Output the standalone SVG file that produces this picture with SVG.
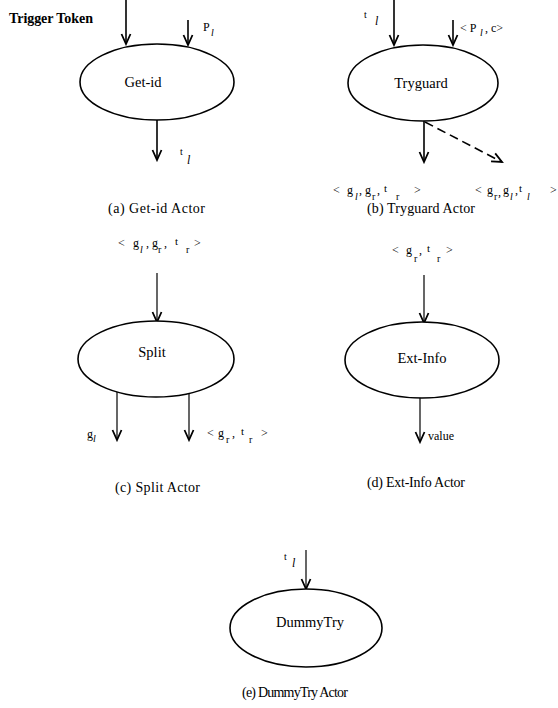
<svg xmlns="http://www.w3.org/2000/svg" width="558" height="708" viewBox="0 0 558 708">
<style>
  .node { fill: #ffffff; stroke: #000; stroke-width: 1.6; }
  .nl { font-family: "Liberation Serif", "Times New Roman", serif; font-size: 14.5px; fill: #000; text-anchor: middle; }
  .cap { font-family: "Liberation Serif", "Times New Roman", serif; font-size: 14px; fill: #000; }
  .lb { font-family: "Liberation Serif", "Times New Roman", serif; font-size: 12px; fill: #000; }
  .sb { font-size: 10px; }
  .tt { font-size: 11px; }
  .it { font-style: italic; }
  .edge { stroke: #000; stroke-width: 1.6; fill: none; marker-end: url(#ah); }
  .thin { stroke-width: 1.2; }
  .dash { stroke-dasharray: 9 5; }
</style>
<defs>
  <marker id="ah" viewBox="-11 -6 13 12" markerWidth="13" markerHeight="12" refX="0" refY="0" orient="auto" markerUnits="userSpaceOnUse">
    <path d="M-10,-4.5 L0,0 L-10,4.5" fill="none" stroke="#000" stroke-width="1.8"/>
  </marker>
</defs>
<rect width="558" height="708" fill="#ffffff"/>

<g id="connectors">
  <line class="edge" x1="126" y1="0" x2="126" y2="44"/>
  <line class="edge" x1="188" y1="20" x2="188" y2="45"/>
  <line class="edge" x1="157" y1="120" x2="157" y2="160"/>
  <line class="edge" x1="394" y1="0" x2="394" y2="45"/>
  <line class="edge" x1="453" y1="20" x2="453" y2="45"/>
  <line class="edge" x1="424" y1="121" x2="424" y2="162"/>
  <line class="edge dash" x1="425" y1="122" x2="502" y2="162"/>
  <line class="edge thin" x1="157" y1="273" x2="157" y2="322"/>
  <line class="edge thin" x1="117" y1="392" x2="117" y2="440"/>
  <line class="edge thin" x1="189" y1="393" x2="189" y2="440"/>
  <line class="edge thin" x1="424" y1="275" x2="424" y2="323"/>
  <line class="edge thin" x1="420" y1="398" x2="420" y2="442"/>
  <line class="edge thin" x1="306" y1="550" x2="306" y2="589"/>
</g>

<g id="get-id">
  <ellipse class="node" cx="157" cy="82" rx="77" ry="38"/>
  <text class="nl" x="143" y="87">Get-id</text>
</g>
<g id="tryguard">
  <ellipse class="node" cx="423" cy="83" rx="75" ry="38"/>
  <text class="nl" x="421" y="88">Tryguard</text>
</g>
<g id="split">
  <ellipse class="node" cx="156" cy="359" rx="78" ry="38"/>
  <text class="nl" x="152" y="357">Split</text>
</g>
<g id="ext-info">
  <ellipse class="node" cx="422" cy="360" rx="77" ry="38"/>
  <text class="nl" x="422" y="363">Ext-Info</text>
</g>
<g id="dummytry">
  <ellipse class="node" cx="306" cy="628" rx="76" ry="39"/>
  <text class="nl" x="310" y="627">DummyTry</text>
</g>

<g id="labels">
  <text class="cap" x="9" y="23" font-weight="bold" textLength="84">Trigger Token</text>
  <text class="lb" font-size="13px"><tspan x="203" y="31">P</tspan><tspan class="sb it" x="211" y="36">l</tspan></text>
  <text class="lb"><tspan class="sb" x="180" y="155">t</tspan><tspan class="it" x="187" y="164">l</tspan></text>

  <text class="lb"><tspan class="sb" x="364" y="18">t</tspan><tspan class="it" x="375" y="25">l</tspan></text>
  <text class="lb"><tspan x="460" y="32">&lt; P</tspan><tspan class="sb it" x="480" y="36">l</tspan><tspan x="485" y="32">, c&gt;</tspan></text>
  <text class="lb"><tspan x="333" y="194">&lt;</tspan><tspan x="347" y="194">g</tspan><tspan class="sb it" x="355" y="200">l</tspan><tspan x="359" y="194">,</tspan><tspan x="365" y="194">g</tspan><tspan class="sb" x="372" y="200">r</tspan><tspan x="377" y="194">,</tspan><tspan class="tt" x="384" y="192">t</tspan><tspan class="sb" x="396" y="200">r</tspan><tspan x="414" y="194">&gt;</tspan></text>
  <text class="lb"><tspan x="475" y="194">&lt;</tspan><tspan x="487" y="194">g</tspan><tspan class="sb" x="494" y="200">r</tspan><tspan x="498" y="196">,</tspan><tspan x="503" y="194">g</tspan><tspan class="sb it" x="510" y="200">l</tspan><tspan x="515" y="194">,</tspan><tspan class="tt" x="519" y="192">t</tspan><tspan class="sb it" x="527" y="200">l</tspan><tspan x="550" y="194">&gt;</tspan></text>

  <text class="lb"><tspan x="118" y="247">&lt;</tspan><tspan x="133" y="247">g</tspan><tspan class="sb it" x="140" y="253">l</tspan><tspan x="146" y="247">,</tspan><tspan x="152" y="247">g</tspan><tspan class="sb" x="158" y="253">r</tspan><tspan x="164" y="247">,</tspan><tspan class="tt" x="175" y="245">t</tspan><tspan class="sb" x="186" y="253">r</tspan><tspan x="194" y="247">&gt;</tspan></text>
  <text class="lb"><tspan x="87" y="438">g</tspan><tspan class="sb it" x="93" y="442">l</tspan></text>
  <text class="lb"><tspan x="207" y="437">&lt;</tspan><tspan x="218" y="437">g</tspan><tspan class="sb" x="226" y="443">r</tspan><tspan x="232" y="437">,</tspan><tspan class="tt" x="241" y="435">t</tspan><tspan class="sb" x="249" y="443">r</tspan><tspan x="261" y="437">&gt;</tspan></text>

  <text class="lb"><tspan x="392" y="254">&lt;</tspan><tspan x="406" y="254">g</tspan><tspan class="sb" x="414" y="262">r</tspan><tspan x="419" y="254">,</tspan><tspan class="tt" x="427" y="252">t</tspan><tspan class="sb" x="437" y="262">r</tspan><tspan x="446" y="254">&gt;</tspan></text>
  <text class="lb" x="428" y="440" font-size="11px">value</text>

  <text class="lb"><tspan class="sb" x="284" y="560">t</tspan><tspan class="it" x="292" y="567">l</tspan></text>

  <text class="cap" x="108" y="213" textLength="97">(a) Get-id Actor</text>
  <text class="cap" x="367" y="213" textLength="108">(b) Tryguard Actor</text>
  <text class="cap" x="115" y="492" textLength="85">(c) Split Actor</text>
  <text class="cap" x="367" y="487" textLength="98">(d) Ext-Info Actor</text>
  <text class="cap" x="242" y="697" font-size="12.5px" textLength="106">(e) DummyTry Actor</text>
</g>
</svg>
